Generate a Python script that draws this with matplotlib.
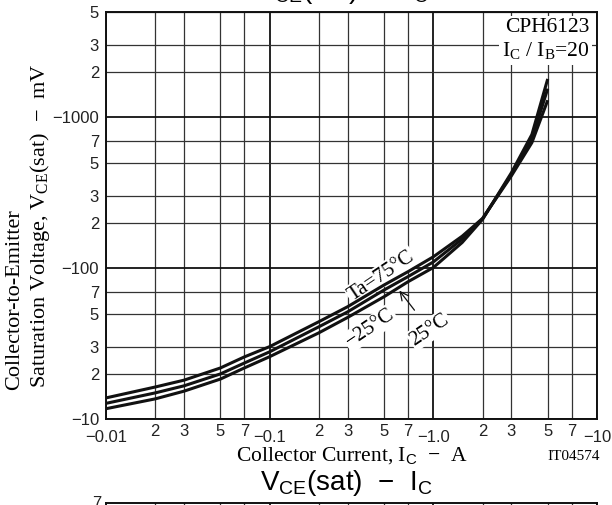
import matplotlib
matplotlib.use('Agg')
import matplotlib.pyplot as plt
from matplotlib.ticker import FixedLocator, FixedFormatter

# collector current, A (plotted as magnitude)
ic = [0.01, 0.02, 0.03, 0.05, 0.07, 0.1, 0.2, 0.3, 0.5, 0.7, 1.0, 1.5, 2.0, 3.0, 4.0, 5.0]
# VCE(sat) magnitude, mV
v_75 = [13.8, 16.3, 18.1, 21.8, 25.8, 30.2, 44.2, 55.6, 77.4, 94.8, 119, 163, 214, 410, 680, 1300]
v_25 = [12.7, 14.9, 16.6, 19.9, 23.5, 27.9, 40.9, 51.4, 71.7, 87.9, 110, 156, 213, 420, 720, 1550]
v_m25 = [11.7, 13.6, 15.3, 18.4, 21.8, 25.9, 37.3, 47.2, 64.7, 81.3, 101, 148, 211, 430, 770, 1800]

x_major = [0.01, 0.1, 1.0, 10.0]
x_major_labels = ['\u22120.01', '\u22120.1', '\u22121.0', '\u221210']
x_minor = [0.02, 0.03, 0.05, 0.07, 0.2, 0.3, 0.5, 0.7, 2, 3, 5, 7]
x_minor_labels = ['2', '3', '5', '7'] * 3
y_major = [10, 100, 1000]
y_major_labels = ['\u221210', '\u2212100', '\u22121000']
y_minor = [20, 30, 50, 70, 200, 300, 500, 700, 2000, 3000, 5000]
y_minor_labels = ['2', '3', '5', '7', '2', '3', '5', '7', '2', '3', '5']

plt.rcParams['mathtext.fontset'] = 'custom'
plt.rcParams['mathtext.rm'] = 'Liberation Serif'
plt.rcParams['mathtext.sf'] = 'Liberation Sans'

W, H = 612, 505
fig = plt.figure(figsize=(W / 100, H / 100), dpi=100)

def fx(p):
    return p / W

def fy(p):
    return 1 - p / H

L, R, T, B = 106, 597, 12, 419
ax = fig.add_axes([fx(L), fy(B), (R - L) / W, (B - T) / H])
ax.set_xscale('log')
ax.set_yscale('log')
ax.set_xlim(0.01, 10)
ax.set_ylim(10, 5000)

ax.xaxis.set_major_locator(FixedLocator(x_major))
ax.xaxis.set_major_formatter(FixedFormatter(x_major_labels))
ax.xaxis.set_minor_locator(FixedLocator(x_minor))
ax.xaxis.set_minor_formatter(FixedFormatter(x_minor_labels))
ax.yaxis.set_major_locator(FixedLocator(y_major))
ax.yaxis.set_major_formatter(FixedFormatter(y_major_labels))
ax.yaxis.set_minor_locator(FixedLocator(y_minor))
ax.yaxis.set_minor_formatter(FixedFormatter(y_minor_labels))

for lab in ax.get_xticklabels(which='both') + ax.get_yticklabels(which='both'):
    lab.set_family('Liberation Sans')
ax.tick_params(which='both', length=0, labelsize=12, colors='#222222')
ax.tick_params(axis='x', which='major', pad=8)
ax.tick_params(axis='x', which='minor', pad=3.5)
ax.tick_params(axis='y', which='both', pad=5)

ax.set_axisbelow(True)
ax.grid(which='major', color='#111111', lw=1.3)
ax.grid(which='minor', color='#333333', lw=0.9)
for s in ax.spines.values():
    s.set_linewidth(1.4)
    s.set_color('#111111')

for v in (v_75, v_25, v_m25):
    ax.plot(ic, v, color='#111111', lw=2.2, zorder=4, solid_capstyle='butt')

serif = 'Liberation Serif'
box = dict(facecolor='white', edgecolor='none', pad=1.0)
ax.text(0.48, 89, 'Ta=75\u00b0C', family=serif, fontsize=15, rotation=34,
        ha='center', va='center', rotation_mode='anchor', bbox=box, zorder=2.5)
ax.text(0.41, 40, '\u221225\u00b0C', family=serif, fontsize=15, rotation=34,
        ha='center', va='center', rotation_mode='anchor', bbox=box, zorder=2.5)
ax.annotate('25\u00b0C', xy=(0.62, 71), xytext=(0.95, 39), family=serif, fontsize=15,
            rotation=34, ha='center', va='center', rotation_mode='anchor', bbox=box,
            zorder=2.5,
            arrowprops=dict(arrowstyle='->', color='#111111', lw=0.9,
                            shrinkA=10, shrinkB=0))
ax.text(0.985, 0.985, 'CPH6123\nI$_\\mathrm{C}$ / I$_\\mathrm{B}$=20', transform=ax.transAxes,
        family=serif, fontsize=15.5, ha='right', va='top', linespacing=1.2,
        bbox=dict(facecolor='white', edgecolor='none', pad=2.0), zorder=2.5)

# axis titles
fig.text(fx(352), fy(456), 'Collector Current, I$_\\mathsf{C}$  \u2212  A', family=serif,
         fontsize=15.5, ha='center', va='center')
fig.text(fx(600), fy(457), 'IT04574', family=serif, fontsize=11, ha='right', va='center')
fig.text(fx(15), fy(390), 'Collector-to-Emitter', family=serif, fontsize=16,
         rotation=90, ha='left', va='center', rotation_mode='anchor')
fig.text(fx(40), fy(388), 'Saturation Voltage, V$_\\mathrm{CE}$(sat)  \u2212  mV', family=serif,
         fontsize=16, rotation=90, ha='left', va='center', rotation_mode='anchor')

title = 'V$_\\mathsf{CE}$(sat)  \u2212  I$_\\mathsf{C}$'
fig.text(fx(346), fy(490), title, family='Liberation Sans', fontsize=20,
         ha='center', va='baseline')
fig.text(fx(342), fy(-2), title, family='Liberation Sans', fontsize=20,
         ha='center', va='baseline')

# top edge of the next chart on the page
ax2 = fig.add_axes([fx(L), fy(H + 40), (R - L) / W, 42 / H])
ax2.set_xscale('log')
ax2.set_xlim(0.01, 10)
ax2.xaxis.set_major_locator(FixedLocator(x_major))
ax2.xaxis.set_minor_locator(FixedLocator(x_minor))
ax2.set_yticks([])
ax2.tick_params(which='both', length=0, labelbottom=False)
ax2.grid(which='major', color='#111111', lw=1.3)
ax2.grid(which='minor', color='#333333', lw=0.9)
for s in ax2.spines.values():
    s.set_linewidth(1.4)
    s.set_color('#111111')
fig.text(fx(101), fy(503), '7', family='Liberation Sans', fontsize=12,
         ha='right', va='center', color='#222222')

fig.savefig('out.png', dpi=100)
